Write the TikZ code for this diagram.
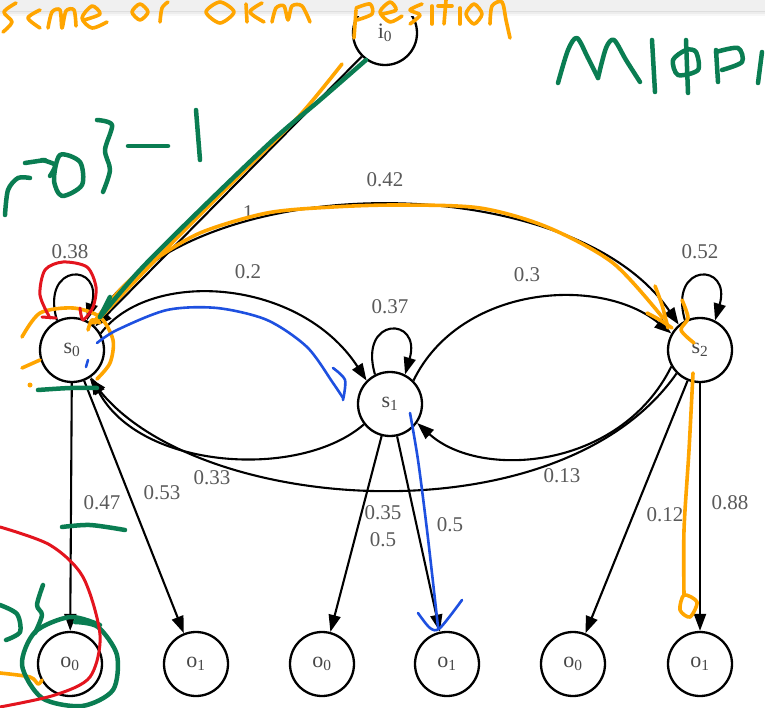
\documentclass[tikz,border=0pt]{standalone}
\usepackage{fontspec}
\setmainfont{Liberation Serif}
\usetikzlibrary{arrows.meta}
\definecolor{lbl}{HTML}{5A5A5A}
\definecolor{hor}{HTML}{FFA500}
\definecolor{hgr}{HTML}{0A7D52}
\definecolor{hrd}{HTML}{E3141E}
\definecolor{hbl}{HTML}{1E50E0}
\tikzset{
  st/.style={circle, draw, line width=2.3pt, minimum size=64pt, inner sep=0pt,
    font=\fontsize{22}{24}\selectfont, text=black!72},
  edge/.style={line width=2.1pt, -{Triangle[length=17pt,width=12pt]}},
  lab/.style={font=\fontsize{21}{24}\selectfont, text=lbl, inner sep=0pt},
  ink/.style={line cap=round, line join=round},
}
\begin{document}
\begin{tikzpicture}[x=1pt,y=-1pt]
\useasboundingbox (0,0) rectangle (765,708);
\fill[white] (0,0) rectangle (765,708);
% nodes
\node[st] (i0) at (385,33) {i\textsubscript{0}};
\node[st] (s0) at (72,350) {s\textsubscript{0}};
\node[st] (s1) at (390,404) {s\textsubscript{1}};
\node[st] (s2) at (700,350) {s\textsubscript{2}};
\node[st] (a0) at (70,664) {o\textsubscript{0}};
\node[st] (a1) at (196,664) {o\textsubscript{1}};
\node[st] (b0) at (322,664) {o\textsubscript{0}};
\node[st] (b1) at (447,664) {o\textsubscript{1}};
\node[st] (c0) at (573,664) {o\textsubscript{0}};
\node[st] (c1) at (700,664) {o\textsubscript{1}};
% transitions
\draw[edge] (i0) -- (s0);
\draw[edge] (s0.117) .. controls (40,262) and (104,262) .. (s0.63);
\draw[edge] (s1.117) .. controls (358,316) and (422,316) .. (s1.63);
\draw[edge] (s2.117) .. controls (668,262) and (732,262) .. (s2.63);
\draw[edge] (s0.50) .. controls (180,165) and (570,165) .. (s2.130);
\draw[edge] (s0.30) .. controls (150,268) and (300,278) .. (s1.135);
\draw[edge] (s1.45) .. controls (460,285) and (600,275) .. (s2.150);
\draw[edge] (s1.218) .. controls (300,480) and (140,470) .. (s0.-55);
\draw[edge] (s2.225) .. controls (560,540) and (200,515) .. (s0.-58);
\draw[edge] (s2.210) .. controls (620,470) and (480,480) .. (s1.-35);
% emissions
\draw[edge] (s0) -- (a0);
\draw[edge] (s0) -- (a1);
\draw[edge] (s1) -- (b0);
\draw[edge] (s1) -- (b1);
\draw[edge] (s2) -- (c0);
\draw[edge] (s2) -- (c1);
% labels
\node[lab] (l1) at (248,213) {1};
\node[lab] (l38) at (70,252) {0.38};
\node[lab] (l42) at (385,180) {0.42};
\node[lab] (l2) at (248,272) {0.2};
\node[lab] (l37) at (390,307) {0.37};
\node[lab] (l3) at (527,275) {0.3};
\node[lab] (l52) at (700,252) {0.52};
\node[lab] (l33) at (212,478) {0.33};
\node[lab] (l13) at (562,476) {0.13};
\node[lab] (l35) at (383,513) {0.35};
\node[lab] (l5a) at (383,540) {0.5};
\node[lab] (l5b) at (450,525) {0.5};
\node[lab] (l47) at (102,503) {0.47};
\node[lab] (l53) at (162,493) {0.53};
\node[lab] (l12) at (665,515) {0.12};
\node[lab] (l88) at (730,503) {0.88};
% top bar of the screenshot
\fill[black!6] (0,0) rectangle (765,11);
\fill[black!13] (0,11) rectangle (765,12.5);
\fill[black!7] (0,12.5) rectangle (765,14);
\fill[black!3] (0,14) rectangle (765,16);
% ---- hand annotations ----
% orange
\begin{scope}[hor, ink, line width=3.6pt]
\draw plot[smooth] coordinates {(342,64) (300,115) (240,175) (170,245) (95,323)};
\draw plot[smooth] coordinates {(93,323) (120,290) (150,263) (200,233) (267,213) (333,207) (400,205) (480,208) (547,227) (613,263) (663,318)};
\draw plot[smooth] coordinates {(655,286) (662,305) (668,328)};
\draw plot[smooth] coordinates {(647,313) (660,320) (672,328)};
\draw plot[smooth] coordinates {(682,300) (688,318) (681,330) (694,343)};
\draw plot[smooth] coordinates {(22,337) (40,313) (73,308) (100,317) (113,340) (110,363) (97,379)};
\draw plot[smooth] coordinates {(88,330) (92,320) (100,323)};
\draw (22,368) -- (40,360);
\fill (30,385) circle (2.5pt);
\draw plot[smooth] coordinates {(693,373) (689,450) (684,530) (684,595)};
\draw plot[smooth cycle] coordinates {(684,595) (680,610) (690,617) (697,602)};
\draw plot[smooth] coordinates {(0,673) (30,677) (38,684) (42,680)};
\end{scope}
% green
\begin{scope}[hgr, ink, line width=4.5pt]
\draw plot[smooth] coordinates {(366,60) (320,100) (273,140) (200,210) (140,270) (100,317)};
\draw (100,317) -- (110,297);
\draw plot[smooth] coordinates {(38,390) (70,388) (97,388)};
\draw plot[smooth] coordinates {(62,527) (90,525) (125,530)};
\draw plot[smooth] coordinates {(100,625) (70,617) (35,632) (22,665) (42,698) (82,706) (113,690) (117,655) (98,627) (75,622)};
\draw plot[smooth] coordinates {(0,605) (17,614) (20,632) (6,640)};
\draw plot[smooth] coordinates {(43,585) (37,605) (42,615) (35,633)};
\draw plot[smooth] coordinates {(5,215) (8,190) (18,178) (30,178)};
\draw (25,163) -- (45,160);
\draw plot[smooth] coordinates {(42,160) (55,165) (50,176)};
\draw plot[smooth cycle] coordinates {(60,155) (80,162) (82,185) (62,196) (54,180)};
\draw plot[smooth] coordinates {(97,120) (112,125) (105,150) (110,170) (103,192)};
\draw (128,146) -- (168,146);
\draw (196,110) -- (200,160);
\draw plot[smooth] coordinates {(558,83) (568,50) (577,38) (588,58) (598,78)};
\draw plot[smooth] coordinates {(598,78) (606,48) (614,40) (626,60) (640,82)};
\draw (652,40) -- (655,92);
\draw (686,40) -- (688,93);
\draw plot[smooth cycle] coordinates {(686,50) (673,60) (678,75) (698,70) (696,52)};
\draw (716,50) -- (718,82);
\draw plot[smooth] coordinates {(716,52) (738,48) (742,62) (722,70)};
\draw (762,52) -- (758,83);
\end{scope}
% orange handwriting at top
\begin{scope}[hor, ink, line width=3.6pt]
\draw plot[smooth] coordinates {(16,3) (4,12) (12,22) (3,32)};
\draw plot[smooth] coordinates {(40,10) (28,18) (40,28)};
\draw plot[smooth] coordinates {(48,28) (52,12) (60,10) (62,28) (66,11) (74,10) (76,26)};
\draw plot[smooth] coordinates {(84,20) (100,14) (92,6) (82,18) (92,28) (107,22)};
\draw plot[smooth cycle] coordinates {(140,4) (132,12) (140,20) (148,12)};
\draw plot[smooth] coordinates {(160,22) (162,8) (168,2)};
\draw plot[smooth cycle] coordinates {(220,2) (206,12) (220,23) (234,12)};
\draw plot[smooth] coordinates {(246,4) (247,22)};
\draw plot[smooth] coordinates {(262,3) (250,12) (264,22)};
\draw plot[smooth] coordinates {(272,22) (276,8) (284,6) (288,20) (292,6) (302,6) (310,22)};
\draw plot[smooth] coordinates {(356,10) (354,38)};
\draw plot[smooth] coordinates {(356,8) (370,4) (372,14) (357,20)};
\draw plot[smooth] coordinates {(382,14) (396,10) (390,2) (380,12) (390,22) (402,16)};
\draw plot[smooth] coordinates {(422,4) (410,10) (420,15) (410,24)};
\draw (432,6) -- (432,24);
\draw plot[smooth] coordinates {(446,0) (444,24)};
\draw (438,6) -- (452,6);
\draw (460,8) -- (460,24);
\draw plot[smooth cycle] coordinates {(474,4) (466,14) (474,24) (482,14)};
\draw plot[smooth] coordinates {(490,24) (492,6) (502,2) (506,20) (510,38)};
\end{scope}
% red
\begin{scope}[hrd, ink, line width=3pt]
\draw plot[smooth] coordinates {(50,318) (40,295) (45,270) (63,262) (87,267) (96,287) (93,307) (83,320) (80,308)};
\draw plot[smooth] coordinates {(56,318) (42,317)};
\draw plot[smooth] coordinates {(0,527) (50,545) (83,577) (100,635) (90,677) (55,695) (0,707)};
\end{scope}
% blue
\begin{scope}[hbl, ink, line width=2.6pt]
\draw plot[smooth] coordinates {(97,343) (117,330) (167,310) (217,308) (267,320) (307,347) (333,383) (343,398)};
\draw plot[smooth] coordinates {(333,368) (345,380) (343,400)};
\draw (88,360) -- (86,367);
\draw plot[smooth] coordinates {(410,413) (418,460) (427,530) (435,600) (438,627)};
\draw plot[smooth] coordinates {(418,613) (430,628) (440,628) (462,600)};
\end{scope}
\end{tikzpicture}
\end{document}
